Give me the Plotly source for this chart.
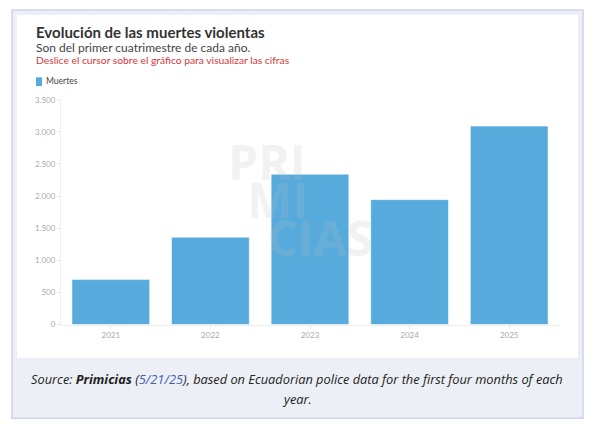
import plotly.graph_objects as go

# data (first four months of each year)
years = ["2021", "2022", "2023", "2024", "2025"]
deaths = [700, 1360, 2340, 1945, 3090]
series_name = "Muertes"
y_ticks = [0, 500, 1000, 1500, 2000, 2500, 3000, 3500]

title = "Evolución de las muertes violentas"
subtitle = "Son del primer cuatrimestre de cada año."
hint = "Deslice el cursor sobre el gráfico para visualizar las cifras"
caption_1 = ("Source: <b>Primicias</b> (<span style='color:#3f5fb0'>5/21/25</span>), "
             "based on Ecuadorian police data for the first four months of each")
caption_2 = "year."

W, H = 600, 438
BLUE = "#56abdc"
FONT = "Lato, 'Source Sans Pro', 'Noto Sans', sans-serif"


def px(x):
    return x / W


def py(y):
    return 1 - y / H


fig = go.Figure(go.Bar(
    x=years,
    y=deaths,
    name=series_name,
    marker=dict(color=BLUE, line=dict(color="rgba(255,255,255,0.5)", width=1)),
    hovertemplate="%{x}: %{y:,.0f}<extra></extra>",
))

shapes = [
    # outer frame with light caption background
    dict(type="rect", xref="paper", yref="paper",
         x0=px(12), x1=px(583), y0=py(423), y1=py(5),
         fillcolor="#eceff5", line=dict(color="#cfd3ee", width=1.5), layer="below"),
    # white chart card
    dict(type="rect", xref="paper", yref="paper",
         x0=px(17), x1=px(578), y0=py(361), y1=py(10),
         fillcolor="white", line=dict(width=0), layer="below"),
    # legend swatch
    dict(type="rect", xref="paper", yref="paper",
         x0=px(36), x1=px(42), y0=py(83), y1=py(74),
         fillcolor=BLUE, line=dict(width=0)),
]

annotations = [
    dict(text=f"<b>{title}</b>", x=px(34), y=py(27.5), font=dict(size=15, color="#333333")),
    dict(text=subtitle, x=px(34), y=py(43), font=dict(size=12, color="#444444")),
    dict(text=hint, x=px(34), y=py(56.5), font=dict(size=10.3, color="#d5373a")),
    dict(text=series_name, x=px(44), y=py(78), font=dict(size=8.5, color="#444444")),
]
for a in annotations:
    a.update(xref="paper", yref="paper", xanchor="left", yanchor="middle",
             showarrow=False, font=dict(family=FONT, **a["font"]))

# faint watermark of the publisher
for word, x, y in [("PRI", 267, 160), ("MI", 277, 199), ("CIAS", 320, 238)]:
    annotations.append(dict(
        text=f"<b>{word}</b>", x=px(x), y=py(y), xref="paper", yref="paper",
        xanchor="center", yanchor="middle", showarrow=False,
        font=dict(family="'Open Sans', sans-serif", size=48, color="rgba(190,190,190,0.2)"),
    ))

# source note under the chart card, two centred lines
for line, y in [(caption_1, 383), (caption_2, 403)]:
    annotations.append(dict(
        text=f"<i>{line}</i>", x=px(297), y=py(y), xref="paper", yref="paper",
        xanchor="center", yanchor="middle", showarrow=False,
        font=dict(family="'Open Sans', sans-serif", size=12.8, color="#222222"),
    ))

fig.update_layout(
    width=W, height=H,
    margin=dict(l=0, r=0, t=0, b=0),
    paper_bgcolor="white", plot_bgcolor="white",
    separators=",.",
    showlegend=False,
    bargap=0.22,
    font=dict(family=FONT),
    shapes=shapes,
    annotations=annotations,
    xaxis=dict(domain=[px(61), px(559)], showgrid=False, showline=True,
               linecolor="#eeeeee", ticks="outside", ticklen=3, tickcolor="#e6e6e6",
               tickfont=dict(size=8, color="#aaaaaa")),
    yaxis=dict(domain=[py(327), py(97)], range=[0, 3500], tickvals=y_ticks,
               tickformat=",d", showgrid=False, zeroline=False, showline=True,
               linecolor="#eeeeee", ticks="outside", ticklen=3, tickcolor="#e6e6e6",
               tickfont=dict(size=8, color="#aaaaaa")),
)

# page body has a default 8px margin; drop it so the figure sits at 0,0
fig.write_html("out.html", config={"displayModeBar": False},
               post_script="document.body.style.margin='0';")
